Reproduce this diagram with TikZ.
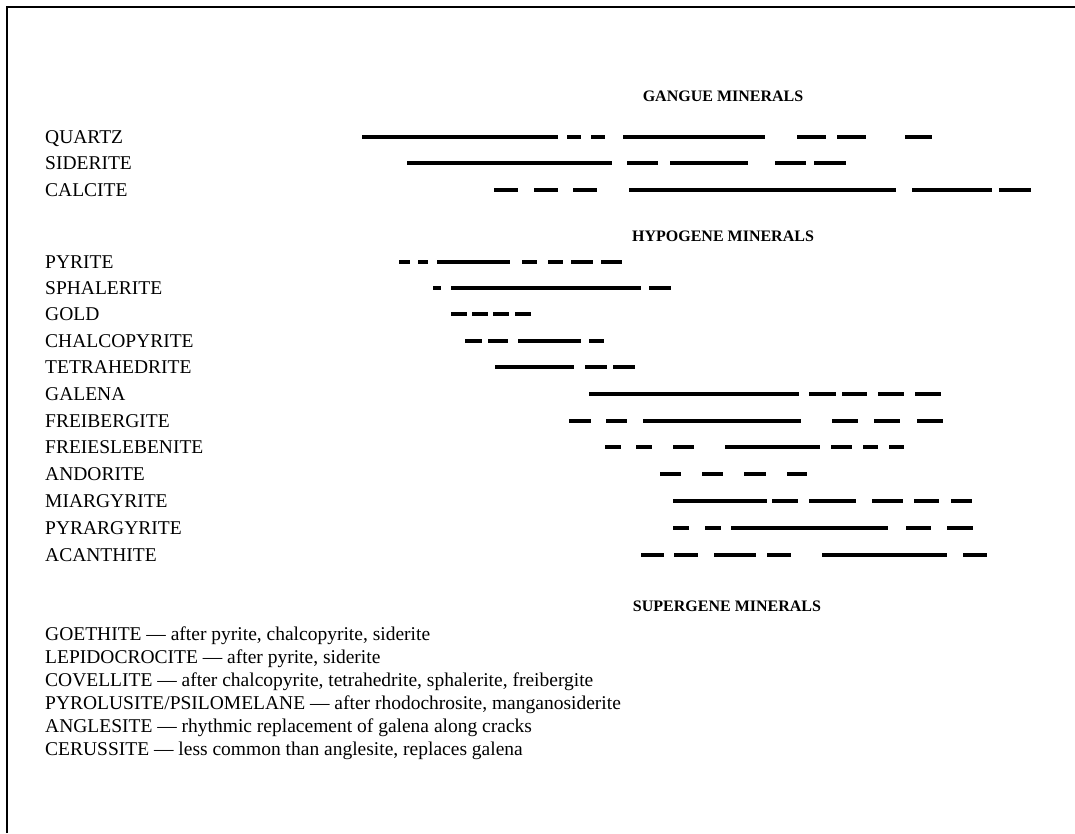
\documentclass[tikz,border=0pt]{standalone}
\usepackage{fontspec}
\setmainfont{Liberation Serif}

\begin{document}
\begin{tikzpicture}[x=1pt, y=-1pt,
mineral/.style={anchor=west, inner sep=0pt, font=\fontsize{19.5}{22}\selectfont, text height=12.9pt, text depth=0pt},
heading/.style={inner sep=0pt, font=\fontsize{16}{18}\selectfont\bfseries, text height=10.6pt, text depth=0pt},
bar/.style={line width=3.6pt}]

\useasboundingbox (0,0) rectangle (1075,833);

%Frame
\draw[line width=1.2pt] (7,833) -- (7,7) -- (1075,7);

%Gangue
\node[heading] (gangue) at (723,96) {GANGUE MINERALS};
\node[mineral] (quartz) at (45,137) {QUARTZ};
\node[mineral] (siderite) at (45,163) {SIDERITE};
\node[mineral] (calcite) at (45,190) {CALCITE};
\draw[bar] (362,137) -- (558,137) (567,137) -- (581,137) (591,137) -- (605,137) (623,137) -- (765,137)
  (797,137) -- (826,137) (837,137) -- (866,137) (905,137) -- (932,137);
\draw[bar] (407,163) -- (612,163) (627,163) -- (658,163) (670,163) -- (748,163) (775,163) -- (806,163)
  (814,163) -- (846,163);
\draw[bar] (494,190) -- (518,190) (534,190) -- (558,190) (573,190) -- (597,190) (629,190) -- (896,190)
  (912,190) -- (992,190) (999,190) -- (1031,190);

%Hypogene
\node[heading] (hypogene) at (723,236) {HYPOGENE MINERALS};
\node[mineral] (pyrite) at (45,262) {PYRITE};
\node[mineral] (sphalerite) at (45,288) {SPHALERITE};
\node[mineral] (gold) at (45,314) {GOLD};
\node[mineral] (chalcopyrite) at (45,341) {CHALCOPYRITE};
\node[mineral] (tetrahedrite) at (45,367) {TETRAHEDRITE};
\node[mineral] (galena) at (45,394) {GALENA};
\node[mineral] (freibergite) at (45,421) {FREIBERGITE};
\node[mineral] (freieslebenite) at (45,447) {FREIESLEBENITE};
\node[mineral] (andorite) at (45,474) {ANDORITE};
\node[mineral] (miargyrite) at (45,501) {MIARGYRITE};
\node[mineral] (pyrargyrite) at (45,528) {PYRARGYRITE};
\node[mineral] (acanthite) at (45,555) {ACANTHITE};
\draw[bar] (399,262) -- (410,262) (418,262) -- (428,262) (437,262) -- (510,262) (522,262) -- (537,262)
  (548,262) -- (563,262) (571,262) -- (593,262) (601,262) -- (622,262);
\draw[bar] (433,288) -- (441,288) (451,288) -- (641,288) (649,288) -- (671,288);
\draw[bar] (451,314) -- (467,314) (472,314) -- (488,314) (493,314) -- (509,314) (515,314) -- (531,314);
\draw[bar] (465,341) -- (482,341) (488,341) -- (508,341) (518,341) -- (581,341) (589,341) -- (604,341);
\draw[bar] (495,367) -- (574,367) (585,367) -- (607,367) (613,367) -- (635,367);
\draw[bar] (589,394) -- (799,394) (809,394) -- (836,394) (842,394) -- (867,394) (878,394) -- (904,394)
  (915,394) -- (941,394);
\draw[bar] (569,421) -- (591,421) (606,421) -- (627,421) (643,421) -- (801,421) (832,421) -- (858,421)
  (874,421) -- (900,421) (917,421) -- (943,421);
\draw[bar] (605,447) -- (621,447) (636,447) -- (652,447) (673,447) -- (694,447) (725,447) -- (820,447)
  (831,447) -- (852,447) (863,447) -- (878,447) (889,447) -- (904,447);
\draw[bar] (660,474) -- (681,474) (702,474) -- (723,474) (744,474) -- (766,474) (787,474) -- (807,474);
\draw[bar] (673,501) -- (767,501) (772,501) -- (798,501) (809,501) -- (856,501) (872,501) -- (903,501)
  (914,501) -- (939,501) (951,501) -- (972,501);
\draw[bar] (673,528) -- (689,528) (705,528) -- (721,528) (731,528) -- (888,528) (906,528) -- (931,528)
  (947,528) -- (973,528);
\draw[bar] (641,555) -- (664,555) (674,555) -- (698,555) (714,555) -- (756,555) (767,555) -- (791,555)
  (822,555) -- (947,555) (963,555) -- (987,555);

%Supergene
\node[heading] (supergene) at (727,606) {SUPERGENE MINERALS};
\node[mineral] (goethite) at (45,634) {GOETHITE — after pyrite, chalcopyrite, siderite};
\node[mineral] (lepidocrocite) at (45,657) {LEPIDOCROCITE — after pyrite, siderite};
\node[mineral] (covellite) at (45,680) {COVELLITE — after chalcopyrite, tetrahedrite, sphalerite, freibergite};
\node[mineral] (pyrolusite) at (45,703) {PYROLUSITE/PSILOMELANE — after rhodochrosite, manganosiderite};
\node[mineral] (anglesite) at (45,726) {ANGLESITE — rhythmic replacement of galena along cracks};
\node[mineral] (cerussite) at (45,749) {CERUSSITE — less common than anglesite, replaces galena};
\end{tikzpicture}
\end{document}
